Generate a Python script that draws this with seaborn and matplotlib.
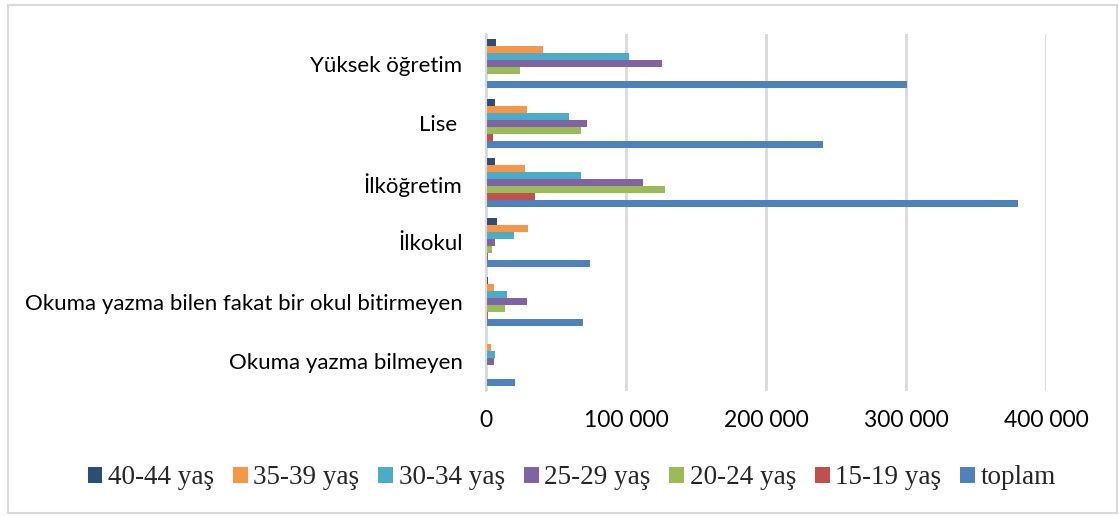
import numpy as np
import pandas as pd
import seaborn as sns
import matplotlib.pyplot as plt
from matplotlib.patches import Rectangle
from matplotlib.ticker import FuncFormatter

# Education level categories (top to bottom as in the chart)
categories = ["Yüksek öğretim", "Lise ", "İlköğretim", "İlkokul",
              "Okuma yazma bilen fakat bir okul bitirmeyen", "Okuma yazma bilmeyen"]

# Age groups (legend order)
groups = ["40-44 yaş", "35-39 yaş", "30-34 yaş", "25-29 yaş", "20-24 yaş", "15-19 yaş", "toplam"]

# Values for each age group, one value per category
age_40_44 = [7000, 6200, 6200, 7700, 1200, 700]
age_35_39 = [40500, 29000, 28000, 30000, 5700, 3800]
age_30_34 = [102000, 59000, 68000, 20000, 15000, 6700]
age_25_29 = [126000, 72000, 112000, 6700, 29500, 6000]
age_20_24 = [24000, 68000, 128000, 4500, 13600, 1000]
age_15_19 = [0, 4800, 35000, 1200, 1500, 300]
toplam = [301000, 241000, 380000, 74000, 69600, 20800]

series = [age_40_44, age_35_39, age_30_34, age_25_29, age_20_24, age_15_19, toplam]
colors = ["#2C4D75", "#F79646", "#4BACC6", "#8064A2", "#9BBB59", "#C0504D", "#4F81BD"]

# Build long-form table for seaborn
rows = []
for g, vals in zip(groups, series):
    for c, v in zip(categories, vals):
        rows.append({"category": c, "group": g, "value": v})
df = pd.DataFrame(rows)

sns.set_style("white")
plt.rcParams["font.family"] = ["Lato", "DejaVu Sans"]

W, H = 1119, 516
fig = plt.figure(figsize=(W / 100, H / 100), dpi=100)
ax = fig.add_axes([486 / W, 1 - 391 / H, (1046 - 486) / W, (391 - 34) / H])

sns.barplot(data=df, x="value", y="category", hue="group", order=categories,
            hue_order=groups, palette=colors, orient="h", width=0.82,
            saturation=1, linewidth=0, ax=ax)

ax.set_xlim(0, 400000)
ax.set_xticks([0, 100000, 200000, 300000, 400000])
ax.xaxis.set_major_formatter(FuncFormatter(lambda v, p: f"{int(v):,}".replace(",", " ")))
ax.xaxis.grid(True, color="#D9D9D9", linewidth=2)
ax.set_axisbelow(True)
ax.set_xlabel("")
ax.set_ylabel("")

# Spines: only a light grey left axis line
for s in ["top", "right", "bottom"]:
    ax.spines[s].set_visible(False)
ax.spines["left"].set_color("#D9D9D9")
ax.spines["left"].set_linewidth(1.5)

ax.tick_params(axis="x", length=0, pad=14, labelsize=16.5, labelcolor="#000000")
ax.tick_params(axis="y", length=0, pad=17, labelsize=16, labelcolor="#000000")

# Legend at the bottom in serif font
handles, labels = ax.get_legend_handles_labels()
ax.legend_.remove()
fig.legend(handles, labels, loc="center", bbox_to_anchor=(0.511, 1 - 478 / H), ncol=7,
           frameon=False, prop={"family": "Liberation Serif", "size": 19.5},
           handlelength=0.55, handleheight=0.55, handletextpad=0.2, columnspacing=0.7)

# Light grey outer frame
fig.patches.append(Rectangle((8 / W, 3 / H), 1109 / W, 508 / H, transform=fig.transFigure,
                             fill=False, edgecolor="#D9D9D9", linewidth=1.5))

plt.savefig("out.png", dpi=100)
